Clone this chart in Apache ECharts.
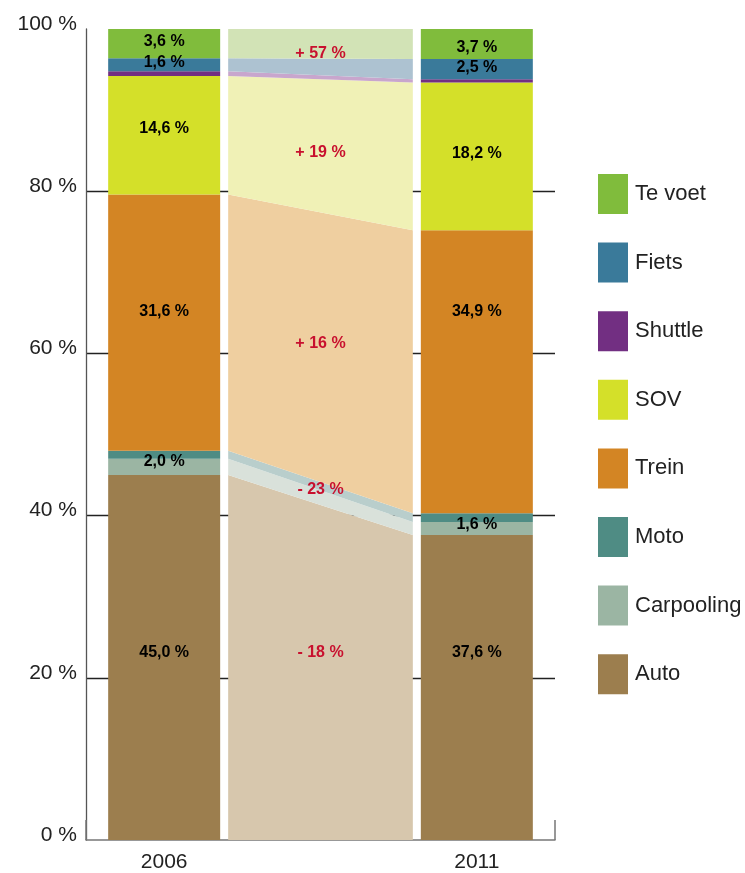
<!DOCTYPE html>
<html><head><meta charset="utf-8">
<script src="https://cdn.jsdelivr.net/npm/echarts@6/dist/echarts.min.js"></script>
<style>html,body{margin:0;padding:0;background:#fff}#c{width:745px;height:873px}</style>
</head><body><div id="c"></div>
<script>
// ---- data ----
const years = ['2006', '2011'];
const modes = ['Auto', 'Carpooling', 'Moto', 'Trein', 'SOV', 'Shuttle', 'Fiets', 'Te voet']; // bottom -> top
const share2006 = [45.0, 2.0, 1.0, 31.6, 14.6, 0.6, 1.6, 3.6];
const share2011 = [37.6, 1.6, 1.1, 34.9, 18.2, 0.4, 2.5, 3.7];
const legendOrder = ['Te voet', 'Fiets', 'Shuttle', 'SOV', 'Trein', 'Moto', 'Carpooling', 'Auto'];
const labeledModes = ['Te voet', 'Fiets', 'SOV', 'Trein', 'Carpooling', 'Auto'];
const labelAnchor2006 = [98.4, 95.9, 87.7, 65.1, 46.6, 23.1];
const labelAnchor2011 = [97.7, 95.2, 84.6, 65.1, 38.9, 23.1];
const changeTexts = ['+ 57 %', '+ 19 %', '+ 16 %', '- 23 %', '- 18 %'];
const changeAnchors = [97.0, 84.8, 61.2, 43.2, 23.1];

// ---- styles ----
const colors = {Auto:'#9c7e4e', Carpooling:'#9bb5a3', Moto:'#4f8c84', Trein:'#d38524', SOV:'#d4e029', Shuttle:'#722f82', Fiets:'#3a7a9a', 'Te voet':'#80bc3c'};
const pale = {Auto:'#d7c7ad', Carpooling:'#d9e1da', Moto:'#b9cecc', Trein:'#efcfa0', SOV:'#f0f1b6', Shuttle:'#c8a6cd', Fiets:'#adc2d1', 'Te voet':'#d2e3b6'};
const BAR_W = 112, GAP = 8;
const FONT = "'Liberation Sans', Arial, Helvetica, sans-serif";

const fmt = v => v.toFixed(1).replace('.', ',') + ' %';
const cats = [years[0], '', years[1]];

const barSeries = modes.map((m, i) => ({
  name: m, type: 'bar', stack: 'total', barWidth: BAR_W,
  itemStyle: {color: colors[m]},
  data: [share2006[i], '-', share2011[i]],
  silent: true
}));

const bandSeries = {
  type: 'custom', silent: true, z: 3,
  data: [[1, 0]],
  renderItem: function (params, api) {
    const xl = api.coord([0, 0])[0] + BAR_W / 2 + GAP;
    const xr = api.coord([2, 0])[0] - BAR_W / 2 - GAP;
    const children = [];
    let a = 0, b = 0;
    modes.forEach((m, i) => {
      const a1 = a + share2006[i], b1 = b + share2011[i];
      children.push({
        type: 'polygon',
        shape: {points: [[xl, api.coord([0, a])[1]], [xr, api.coord([2, b])[1]], [xr, api.coord([2, b1])[1]], [xl, api.coord([0, a1])[1]]]},
        style: {fill: pale[m]}
      });
      a = a1; b = b1;
    });
    return {type: 'group', children: children};
  }
};

const barLabelData = [];
labeledModes.forEach((m, k) => {
  const i = modes.indexOf(m);
  barLabelData.push({name: fmt(share2006[i]), value: [0, labelAnchor2006[k]]});
  barLabelData.push({name: fmt(share2011[i]), value: [2, labelAnchor2011[k]]});
});
const labelBase = {position: 'inside', formatter: '{b}', fontWeight: 'bold', fontSize: 16, fontFamily: FONT, opacity: 1, textBorderWidth: 0};
const barLabelSeries = {
  type: 'scatter', symbolSize: 0, silent: true, z: 10,
  itemStyle: {opacity: 1},
  data: barLabelData,
  label: Object.assign({show: true, color: '#000'}, labelBase)
};
const changeLabelSeries = {
  type: 'scatter', symbolSize: 0, silent: true, z: 10,
  itemStyle: {opacity: 1},
  data: changeTexts.map((t, k) => ({name: t, value: [1, changeAnchors[k]]})),
  label: Object.assign({show: true, color: '#c8102e'}, labelBase)
};

const chart = echarts.init(document.getElementById('c'), null, {renderer: 'canvas'});
chart.setOption({
  animation: false,
  textStyle: {fontFamily: FONT},
  grid: {left: 86, right: 190, top: 29, bottom: 33, containLabel: false},
  legend: {
    data: legendOrder, orient: 'vertical', left: 593, top: 169,
    itemWidth: 30, itemHeight: 40, itemGap: 28.6, icon: 'rect',
    textStyle: {fontSize: 22, color: '#222', fontFamily: FONT, padding: [0, 0, 0, 2]},
    selectedMode: false
  },
  xAxis: {
    type: 'category', data: cats, boundaryGap: true,
    axisLine: {lineStyle: {color: '#777', width: 1.5}},
    axisTick: {show: true, inside: true, length: 20, lineStyle: {color: '#777', width: 1.5}},
    axisLabel: {fontSize: 21, color: '#222', margin: 12, fontFamily: FONT}
  },
  yAxis: {
    type: 'value', min: 0, max: 100, interval: 20,
    axisLine: {show: true, lineStyle: {color: '#555', width: 1.3}},
    axisTick: {show: false},
    axisLabel: {formatter: '{value} %', fontSize: 21, color: '#222', margin: 9, verticalAlign: 'bottom', lineHeight: 10, fontFamily: FONT},
    splitLine: {show: true, lineStyle: {color: ['rgba(0,0,0,0)', '#222', '#222', '#222', '#222', 'rgba(0,0,0,0)'], width: 1.3}}
  },
  series: barSeries.concat([bandSeries, barLabelSeries, changeLabelSeries])
});
</script>
</body></html>
